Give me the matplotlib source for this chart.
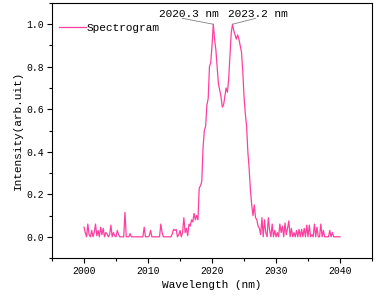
import numpy as np
import matplotlib.pyplot as plt
from matplotlib.ticker import MultipleLocator

# spectrum sampled every 0.2 nm from 2000 to 2040 nm (one row per nm)
wavelength = np.round(np.linspace(2000, 2040, 201), 1)
intensity = [
    0.045, 0.02, 0.0, 0.06, 0.01,      # 2000
    0.0, 0.03, 0.0, 0.02, 0.06,        # 2001
    0.005, 0.03, 0.0, 0.045, 0.01,     # 2002
    0.04, 0.0, 0.02, 0.015, 0.0,       # 2003
    0.01, 0.055, 0.0, 0.02, 0.005,     # 2004
    0.0, 0.03, 0.01, 0.0, 0.0,         # 2005
    0.0, 0.0, 0.115, 0.0, 0.0,         # 2006
    0.0, 0.015, 0.0, 0.0, 0.0,         # 2007
    0.0, 0.0, 0.0, 0.0, 0.0,           # 2008
    0.0, 0.0, 0.045, 0.0, 0.0,         # 2009
    0.0, 0.005, 0.03, 0.0, 0.0,        # 2010
    0.0, 0.0, 0.0, 0.0, 0.0,           # 2011
    0.06, 0.02, 0.0, 0.0, 0.0,         # 2012
    0.0, 0.0, 0.0, 0.0, 0.015,         # 2013
    0.035, 0.03, 0.035, 0.0, 0.01,     # 2014
    0.03, 0.0, 0.02, 0.09, 0.02,       # 2015
    0.04, 0.005, 0.06, 0.05, 0.08,     # 2016
    0.07, 0.11, 0.08, 0.10, 0.08,      # 2017
    0.23, 0.24, 0.26, 0.42, 0.50,      # 2018
    0.52, 0.62, 0.65, 0.80, 0.82,      # 2019
    0.90, 1.0, 0.93, 0.88, 0.80,       # 2020
    0.72, 0.69, 0.66, 0.61, 0.62,      # 2021
    0.66, 0.70, 0.68, 0.74, 0.85,      # 2022
    0.96, 1.0, 0.97, 0.95, 0.93,       # 2023
    0.95, 0.93, 0.90, 0.87, 0.78,      # 2024
    0.66, 0.58, 0.52, 0.40, 0.32,      # 2025
    0.22, 0.15, 0.10, 0.15, 0.09,      # 2026
    0.08, 0.05, 0.04, 0.01, 0.09,      # 2027
    0.0, 0.08, 0.02, 0.0, 0.09,        # 2028
    0.03, 0.0, 0.06, 0.0, 0.03,        # 2029
    0.0, 0.02, 0.0, 0.06, 0.02,        # 2030
    0.05, 0.0, 0.065, 0.01, 0.04,      # 2031
    0.075, 0.0, 0.04, 0.0, 0.02,       # 2032
    0.0, 0.03, 0.0, 0.035, 0.0,        # 2033
    0.035, 0.0, 0.04, 0.0, 0.055,      # 2034
    0.0, 0.055, 0.0, 0.01, 0.0,        # 2035
    0.06, 0.0, 0.045, 0.0, 0.0,        # 2036
    0.06, 0.0, 0.03, 0.0, 0.0,         # 2037
    0.0, 0.0, 0.03, 0.0, 0.02,         # 2038
    0.0, 0.0, 0.0, 0.0, 0.0,           # 2039
    0.0,                               # 2040
]

peak_wl = [2020.2, 2023.2]
peak_labels = ['2020.3 nm', '2023.2 nm']
peak_height = [1.0, 1.0]

plt.rcParams['font.family'] = ['Liberation Mono', 'DejaVu Sans Mono']

fig = plt.figure(figsize=(3.78, 2.98), dpi=100)
ax = fig.add_axes([0.1376, 0.134, 0.8466, 0.856])

ax.plot(wavelength, intensity, color='#ff3fa0', lw=0.9, label='Spectrogram')

# peak labels, with thin grey leader lines drawn separately
text_off = [(-17.5, 5), (18.2, 5)]
line_off = [(-22.5, 4.3), (16.8, 4.3)]
for wl, h, lab, toff, loff in zip(peak_wl, peak_height, peak_labels, text_off, line_off):
    ax.annotate('', xy=(wl, h), xytext=loff, textcoords='offset points',
                arrowprops=dict(arrowstyle='-', color='gray', lw=0.6,
                                shrinkA=0, shrinkB=0))
    ax.annotate(lab, xy=(wl, h), xytext=toff, textcoords='offset points',
                ha='center', va='baseline', fontsize=8)

ax.set_xlim(1995, 2045)
ax.set_ylim(-0.1, 1.1)
ax.xaxis.set_major_locator(MultipleLocator(10))
ax.xaxis.set_minor_locator(MultipleLocator(5))
ax.yaxis.set_major_locator(MultipleLocator(0.2))
ax.yaxis.set_minor_locator(MultipleLocator(0.1))
ax.yaxis.set_major_formatter(lambda v, p: f'{v:.1f}')
ax.tick_params(which='major', direction='out', length=3.5, width=0.8, labelsize=7, pad=2)
ax.tick_params(which='minor', direction='out', length=2, width=0.8)
ax.tick_params(top=False, right=False)

ax.set_xlabel('Wavelength (nm)', fontsize=8, labelpad=3)
ax.set_ylabel('Intensity(arb.uit)', fontsize=8, labelpad=3)

ax.legend(loc='upper left', bbox_to_anchor=(0.015, 0.932), frameon=False,
          fontsize=8, handlelength=2.4, handletextpad=0.1, borderpad=0.2,
          borderaxespad=0.0)

fig.savefig('out.png', dpi=100)
